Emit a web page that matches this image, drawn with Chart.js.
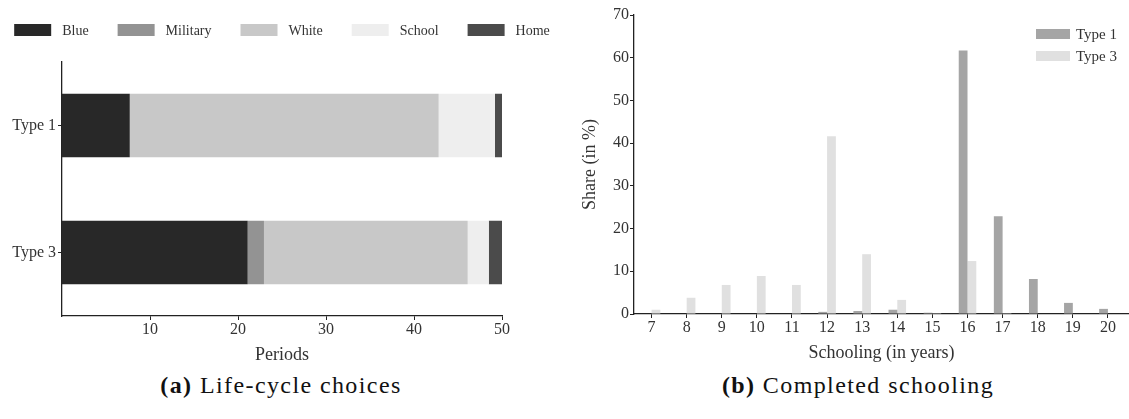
<!DOCTYPE html>
<html>
<head>
<meta charset="utf-8">
<script src="https://cdn.jsdelivr.net/npm/chart.js@4.4.1/dist/chart.umd.min.js"></script>
<style>
	body { margin: 0; background: #fff; width: 1129px; height: 419px; position: relative; overflow: hidden; font-family: "Liberation Serif", "DejaVu Serif", serif; }
	#choices-chart { position: absolute; left: 0; top: 0; }
	#schooling-chart { position: absolute; left: 560px; top: 0; }
	.caption { position: absolute; top: 372px; font-size: 24px; color: #111; transform: translateX(-50%); white-space: nowrap; letter-spacing: 1.4px; }
</style>
</head>
<body>
<canvas id="choices-chart" width="560" height="372"></canvas>
<canvas id="schooling-chart" width="569" height="372"></canvas>
<div class="caption" style="left:281px"><b>(a)</b> Life-cycle choices</div>
<div class="caption" style="left:858px"><b>(b)</b> Completed schooling</div>
<script>
// (a) periods spent in each choice, per type
var types = ['Type 1', 'Type 3'];
var choices = ['Blue', 'Military', 'White', 'School', 'Home'];
var blue = [7.7, 21.1];
var military = [0, 1.85];
var white = [35.1, 23.15];
var school = [6.4, 2.4];
var home = [0.8, 1.5];
var choice_colors = ['#282828', '#939393', '#c8c8c8', '#eeeeee', '#4b4b4b'];
var period_ticks = [10, 20, 30, 40, 50];

// (b) completed schooling shares
var years = [7, 8, 9, 10, 11, 12, 13, 14, 15, 16, 17, 18, 19, 20];
var type_1 = [0, 0, 0, 0, 0, 0.5, 0.7, 1.0, 0.3, 61.7, 22.9, 8.2, 2.6, 1.2];
var type_3 = [1.0, 3.8, 6.8, 8.9, 6.8, 41.6, 14.0, 3.3, 0.2, 12.4, 0.2, 0, 0, 0];
var share_ticks = [0, 10, 20, 30, 40, 50, 60, 70];

var font_family = 'Liberation Serif, DejaVu Serif, serif';
Chart.defaults.font.family = font_family;
Chart.defaults.color = '#333';

// small legend drawn with boxes, like the matplotlib one
var box_legend = {
	id: 'boxLegend',
	afterDraw: function(chart, args, opts) {
		var ctx = chart.ctx;
		var sets = chart.data.datasets;
		ctx.save();
		ctx.font = opts.size + 'px ' + font_family;
		ctx.textBaseline = 'middle';
		if (opts.row) {
			var widths = sets.map(function(d) { return opts.boxW + opts.gap + ctx.measureText(d.label).width; });
			var total = widths.reduce(function(a, b) { return a + b; }, 0) + opts.spacing * (sets.length - 1);
			var x = opts.cx - total / 2;
			sets.forEach(function(d, i) {
				ctx.fillStyle = d.backgroundColor;
				ctx.fillRect(x, opts.y - opts.boxH / 2, opts.boxW, opts.boxH);
				ctx.fillStyle = '#333';
				ctx.fillText(d.label, x + opts.boxW + opts.gap, opts.y + 1);
				x += widths[i] + opts.spacing;
			});
		} else {
			sets.forEach(function(d, i) {
				var y = opts.y + i * opts.rowH;
				ctx.fillStyle = d.backgroundColor;
				ctx.fillRect(opts.x, y - opts.boxH / 2, opts.boxW, opts.boxH);
				ctx.fillStyle = '#333';
				ctx.fillText(d.label, opts.x + opts.boxW + opts.gap, y + 1);
			});
		}
		ctx.restore();
	}
};

function axis_grid() {
	return { drawOnChartArea: false, drawTicks: true, tickLength: 4, color: '#222', lineWidth: 1, offset: false };
}
function axis_border() {
	return { display: true, color: '#222', width: 1.3 };
}

var choice_values = [blue, military, white, school, home];

new Chart(document.getElementById('choices-chart'), {
	type: 'bar',
	data: {
		labels: types,
		datasets: choices.map(function(c, i) {
			return { label: c, data: choice_values[i], backgroundColor: choice_colors[i], borderWidth: 0, barPercentage: 1, categoryPercentage: 0.5 };
		})
	},
	options: {
		indexAxis: 'y',
		responsive: false,
		animation: false,
		layout: { padding: { top: 62, right: 58, left: 0, bottom: 0 } },
		plugins: {
			legend: { display: false },
			tooltip: { enabled: false },
			boxLegend: { row: true, cx: 282, y: 30, boxW: 37, boxH: 12, gap: 11, spacing: 29, size: 14 }
		},
		scales: {
			x: {
				stacked: true, min: 0, max: 50,
				afterBuildTicks: function(s) { s.ticks = period_ticks.map(function(v) { return { value: v }; }); },
				afterFit: function(s) { s.height = 56; },
				grid: axis_grid(), border: axis_border(),
				ticks: { font: { size: 16 }, color: '#333', padding: 0, maxRotation: 0 },
				title: { display: true, text: 'Periods', font: { size: 18 }, color: '#333', padding: { top: 0, bottom: 6 } }
			},
			y: {
				stacked: true,
				afterFit: function(s) { s.width = 62; },
				grid: axis_grid(), border: axis_border(),
				ticks: { font: { size: 16 }, color: '#333', padding: 2 }
			}
		}
	},
	plugins: [box_legend]
});

new Chart(document.getElementById('schooling-chart'), {
	type: 'bar',
	data: {
		datasets: [
			{ label: 'Type 1', data: years.map(function(y, i) { return { x: y, y: type_1[i] }; }), backgroundColor: '#a5a5a5', borderWidth: 0, barPercentage: 1, categoryPercentage: 0.5 },
			{ label: 'Type 3', data: years.map(function(y, i) { return { x: y, y: type_3[i] }; }), backgroundColor: '#e0e0e0', borderWidth: 0, barPercentage: 1, categoryPercentage: 0.5 }
		]
	},
	options: {
		responsive: false,
		animation: false,
		layout: { padding: { top: 15, right: 0, left: 0, bottom: 0 } },
		plugins: {
			legend: { display: false },
			tooltip: { enabled: false },
			boxLegend: { row: false, x: 476, y: 34, rowH: 22, boxW: 34, boxH: 10, gap: 6, size: 15 }
		},
		scales: {
			x: {
				type: 'linear', offset: false, min: 6.5, max: 20.6,
				afterBuildTicks: function(s) { s.ticks = years.map(function(v) { return { value: v }; }); },
				afterFit: function(s) { s.height = 58; },
				grid: axis_grid(), border: axis_border(),
				ticks: { font: { size: 16 }, color: '#333', padding: 0, maxRotation: 0, autoSkip: false },
				title: { display: true, text: 'Schooling (in years)', font: { size: 18 }, color: '#333', padding: { top: 0, bottom: 8 } }
			},
			y: {
				min: 0, max: 70,
				afterBuildTicks: function(s) { s.ticks = share_ticks.map(function(v) { return { value: v }; }); },
				afterFit: function(s) { s.width = 74; },
				grid: axis_grid(), border: axis_border(),
				ticks: { font: { size: 16 }, color: '#333', padding: 1 },
				title: { display: true, text: 'Share (in %)', font: { size: 18 }, color: '#333', padding: { top: 19, bottom: 0 } }
			}
		}
	},
	plugins: [box_legend]
});
</script>
</body>
</html>
